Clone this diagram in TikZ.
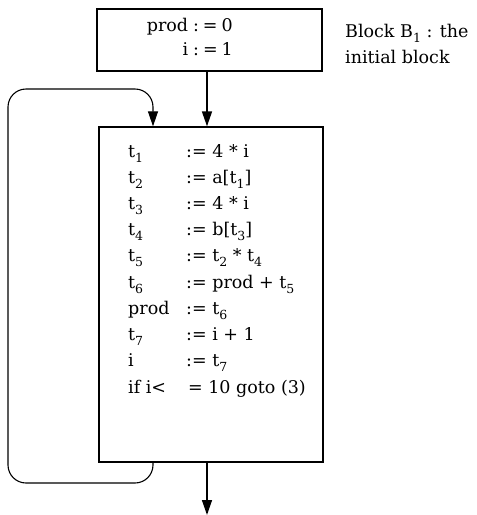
\documentclass[tikz,border=0pt]{standalone}
\usepackage{fontspec}
\setmainfont{DejaVu Serif}
\usetikzlibrary{arrows.meta,calc}
\newcommand{\lo}[1]{\raisebox{-5pt}{\fontsize{12.5}{12.5}\selectfont #1}}
\tikzset{
  blockbox/.style={draw, line width=1.3pt, inner sep=0pt},
  txt/.style={inner sep=0pt, font=\fontsize{17.5}{20}\selectfont},
  arr/.style={line width=1.4pt, -{Triangle[length=15pt,width=10pt]}},
  loopline/.style={line width=1.1pt, rounded corners=18pt, -{Triangle[length=15pt,width=10pt]}}
}
\begin{document}
\begin{tikzpicture}[x=1pt,y=-1pt]
\useasboundingbox (0,0) rectangle (477,515);
% blocks
\node[blockbox, minimum width=225pt, minimum height=62pt] (b1) at (209.5,40) {};
\node[blockbox, minimum width=224pt, minimum height=335pt] (b2) at (211,294.5) {};
% top block text
\node[txt, anchor=base east] (p0) at (233,31) {prod\hspace{5pt}:\hspace{4pt}=\hspace{4pt}0};
\node[txt, anchor=base east] (i1) at (233,55) {i\hspace{5pt}:\hspace{4pt}=\hspace{4pt}1};
% label
\node[txt, anchor=base west] (lab1) at (345,37) {Block B\lo{1} : the};
\node[txt, anchor=base west] (lab2) at (345,63) {initial block};
% main block text
\foreach \k/\l/\r in {1/t\lo{1}/:= 4 * i,
                      2/t\lo{2}/:= a[t\lo{1}],
                      3/t\lo{3}/:= 4 * i,
                      4/t\lo{4}/:= b[t\lo{3}],
                      5/t\lo{5}/:= t\lo{2} * t\lo{4},
                      6/t\lo{6}/:= prod + t\lo{5},
                      7/prod/:= t\lo{6},
                      8/t\lo{7}/:= i + 1,
                      9/i/:= t\lo{7}} {
  \node[txt, anchor=base west] (l\k) at (128,{157+26.2*(\k-1)}) {\l};
  \node[txt, anchor=base west] (r\k) at (186,{157+26.2*(\k-1)}) {\r};
}
\node[txt, anchor=base west] (l10) at (128,393) {if i<\hspace{22pt}= 10 goto (3)};
% connectors
\coordinate (ax) at (207,0);
\coordinate (lx) at (153,0);
\coordinate (lb) at (8,483);
\coordinate (lt) at (153,89);
\coordinate (ex) at (207,515);
\draw[arr] (b1.south -| ax) -- (b2.north -| ax);
\draw[arr] (b2.south -| ax) -- (ex);
\draw[loopline] (b2.south -| lx) |- (lb) |- (lt) -- (b2.north -| lx);
\end{tikzpicture}
\end{document}
